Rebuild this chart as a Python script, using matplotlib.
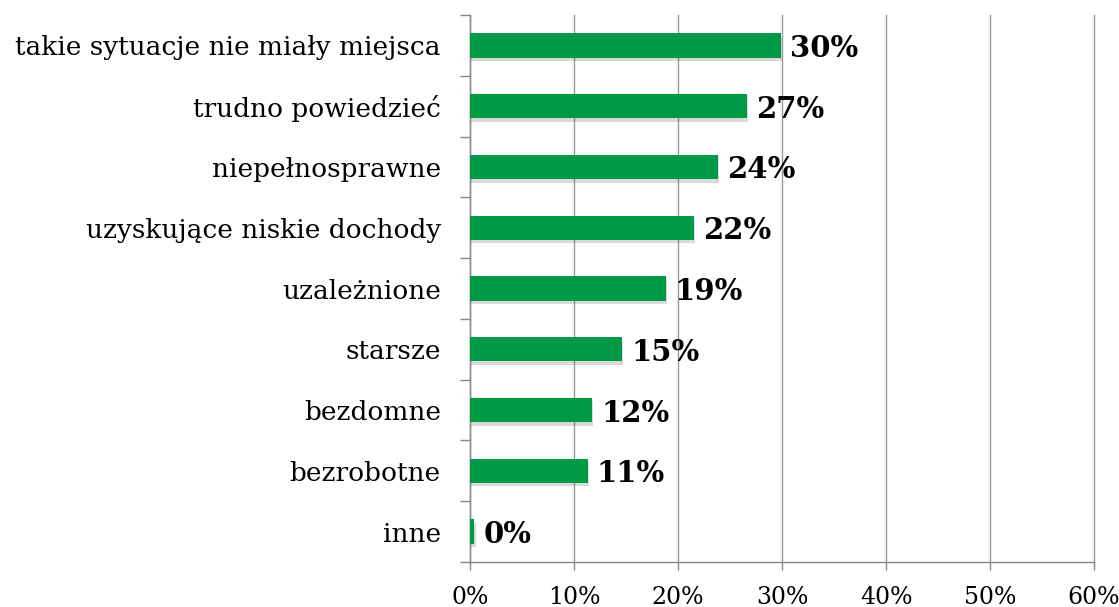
import matplotlib.pyplot as plt
import matplotlib.patheffects as pe
import numpy as np

categories = [
    "takie sytuacje nie miały miejsca",
    "trudno powiedzieć",
    "niepełnosprawne",
    "uzyskujące niskie dochody",
    "uzależnione",
    "starsze",
    "bezdomne",
    "bezrobotne",
    "inne",
]
values = [29.9, 26.6, 23.8, 21.5, 18.8, 14.6, 11.7, 11.3, 0.4]
xticks = [0, 10, 20, 30, 40, 50, 60]

plt.rcParams['font.family'] = ['DejaVu Serif']

fig = plt.figure(figsize=(11.19, 6.07), dpi=100)
ax = fig.add_axes([0.42, 0.0741, 0.5577, 0.9012])

y = np.arange(len(categories))
bars = ax.barh(y, values, height=0.4, color='#009A46', zorder=3)
for b in bars:
    b.set_path_effects([pe.SimplePatchShadow(offset=(1, -2.5), alpha=0.2, shadow_rgbFace='#444444'),
                        pe.Normal()])

for yi, v in zip(y, values):
    ax.text(v + 0.9, yi + 0.05, f"{v:.0f}%", va='center', ha='left',
            fontsize=21, fontweight='bold', color='black', zorder=4)

ax.set_ylim(len(categories) - 0.5, -0.5)
ax.set_xlim(0, 60)
ax.set_yticks(y)
ax.set_yticklabels(categories, fontsize=19)
ax.set_yticks(np.arange(len(categories) + 1) - 0.5, minor=True)
ax.set_xticks(xticks)
ax.set_xticklabels([f"{t}%" for t in xticks], fontsize=17)

ax.tick_params(axis='y', which='major', length=0, pad=21)
ax.tick_params(axis='y', which='minor', length=7, color='#888888', width=1)
ax.tick_params(axis='x', length=6, color='#888888', width=1, pad=11)

ax.grid(axis='x', color='#999999', linewidth=1, zorder=0)
for gl in ax.get_xgridlines():
    gl.set_clip_on(False)
ax.set_axisbelow(True)
for s in ['top', 'right']:
    ax.spines[s].set_visible(False)
for s in ['left', 'bottom']:
    ax.spines[s].set_color('#888888')
    ax.spines[s].set_linewidth(1)

fig.savefig('out.png', dpi=100)
